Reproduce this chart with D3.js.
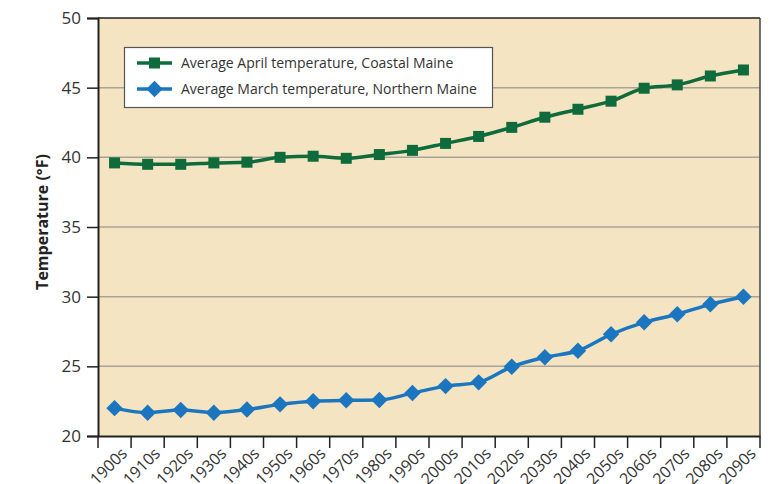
<!DOCTYPE html>
<html><head><meta charset="utf-8">
<script src="https://cdn.jsdelivr.net/npm/d3@7"></script>
<style>body{margin:0;background:#fff}svg{display:block}</style>
</head><body>
<svg id="chart" width="775" height="484"></svg>
<script>
const decades = ["1900s","1910s","1920s","1930s","1940s","1950s","1960s","1970s","1980s","1990s","2000s","2010s","2020s","2030s","2040s","2050s","2060s","2070s","2080s","2090s"];
const aprilCoastal = [39.6,39.5,39.5,39.6,39.65,40.0,40.08,39.93,40.2,40.5,41.0,41.5,42.15,42.88,43.45,44.03,44.96,45.2,45.84,46.27];
const marchNorthern = [22.0,21.67,21.87,21.67,21.9,22.27,22.5,22.56,22.58,23.08,23.58,23.85,24.97,25.65,26.12,27.3,28.16,28.74,29.45,30.0];
const yTicks = [20,25,30,35,40,45,50];
const seriesNames = ["Average April temperature, Coastal Maine","Average March temperature, Northern Maine"];

const svg = d3.select("#chart");
const m = {left:98, right:760, top:18, bottom:436};
const x = d3.scaleBand().domain(decades).range([m.left, m.right]);
const y = d3.scaleLinear().domain([20,50]).range([m.bottom, m.top]);
const font = "'Open Sans', 'Noto Sans', sans-serif";

svg.append("rect").attr("x",m.left).attr("y",m.top).attr("width",m.right-m.left).attr("height",m.bottom-m.top).attr("fill","#f4e4c1");

// grid
svg.append("g").selectAll("line").data(yTicks.filter(d=>d>20&&d<50)).join("line")
  .attr("x1",m.left).attr("x2",m.right).attr("y1",d=>y(d)).attr("y2",d=>y(d))
  .attr("stroke","#a8a39a").attr("stroke-width",1.5);
// top and right border
svg.append("line").attr("x1",m.left).attr("x2",m.right).attr("y1",y(50)).attr("y2",y(50)).attr("stroke","#222").attr("stroke-width",1.5);
svg.append("line").attr("x1",m.right).attr("x2",m.right).attr("y1",m.top).attr("y2",m.bottom).attr("stroke","#444").attr("stroke-width",1.5);

// y axis
const ya = svg.append("g").attr("transform",`translate(${m.left},0)`)
  .call(d3.axisLeft(y).tickValues(yTicks).tickSize(11).tickPadding(6));
ya.select(".domain").attr("stroke","#222").attr("stroke-width",2);
ya.selectAll(".tick line").attr("stroke","#222").attr("stroke-width",1.5);
ya.selectAll("text").attr("font-family",font).attr("font-size",17).attr("fill","#333");

// x axis
const xa = svg.append("g").attr("transform",`translate(0,${m.bottom})`)
  .call(d3.axisBottom(x).tickSize(0).tickFormat(""));
xa.select(".domain").attr("stroke","#222").attr("stroke-width",2);
const edges = decades.map(d=>x(d)).concat([m.right]);
xa.selectAll(".edge").data(edges).join("line").attr("class","edge")
  .attr("x1",d=>d).attr("x2",d=>d).attr("y1",0).attr("y2",12)
  .attr("stroke","#222").attr("stroke-width",1.5);
xa.selectAll(".lbl").data(decades).join("text").attr("class","lbl")
  .attr("transform",d=>`translate(${x(d)+x.bandwidth()/2+5},${10}) rotate(-45)`)
  .attr("text-anchor","end").attr("dy","0.75em")
  .attr("font-family",font).attr("font-size",16).attr("fill","#333").text(d=>d);

// y title
svg.append("text").attr("transform",`translate(48,222) rotate(-90)`)
  .attr("text-anchor","middle").attr("font-family",font).attr("font-weight","bold")
  .attr("font-size",16).attr("fill","#222").text("Temperature (°F)");

const cx = d=>x(d)+x.bandwidth()/2;
const line = d3.line().x(d=>cx(d.k)).y(d=>y(d.v)).curve(d3.curveMonotoneX);
const green = "#0f6b3b", blue = "#1b76bf";
const gData = decades.map((k,i)=>({k,v:aprilCoastal[i]}));
const bData = decades.map((k,i)=>({k,v:marchNorthern[i]}));

svg.append("path").datum(gData).attr("d",line).attr("fill","none").attr("stroke",green).attr("stroke-width",3.5);
svg.append("path").datum(bData).attr("d",line).attr("fill","none").attr("stroke",blue).attr("stroke-width",3.5);
const sq = d3.symbol().type(d3.symbolSquare).size(121);
const dm = d3.symbol().type(d3.symbolSquare).size(135);
svg.append("g").selectAll("path").data(gData).join("path")
  .attr("transform",d=>`translate(${cx(d.k)},${y(d.v)})`).attr("d",sq).attr("fill",green);
svg.append("g").selectAll("path").data(bData).join("path")
  .attr("transform",d=>`translate(${cx(d.k)},${y(d.v)}) rotate(45)`).attr("d",dm).attr("fill",blue);

// legend
const lg = svg.append("g");
lg.append("rect").attr("x",124.5).attr("y",47.5).attr("width",368).attr("height",60)
  .attr("fill","#fff").attr("stroke","#555").attr("stroke-width",1.2);
const items = [{n:seriesNames[0],c:green,s:sq,r:0},{n:seriesNames[1],c:blue,s:dm,r:45}];
items.forEach((it,i)=>{
  const yy = 63 + i*26;
  lg.append("line").attr("x1",137).attr("x2",172).attr("y1",yy).attr("y2",yy).attr("stroke",it.c).attr("stroke-width",3.5);
  lg.append("path").attr("transform",`translate(154.5,${yy}) rotate(${it.r})`).attr("d",it.s).attr("fill",it.c);
  lg.append("text").attr("x",181).attr("y",yy).attr("dy","0.35em").attr("font-family",font)
    .attr("font-size",14).attr("fill","#333").text(it.n);
});
</script>
</body></html>
